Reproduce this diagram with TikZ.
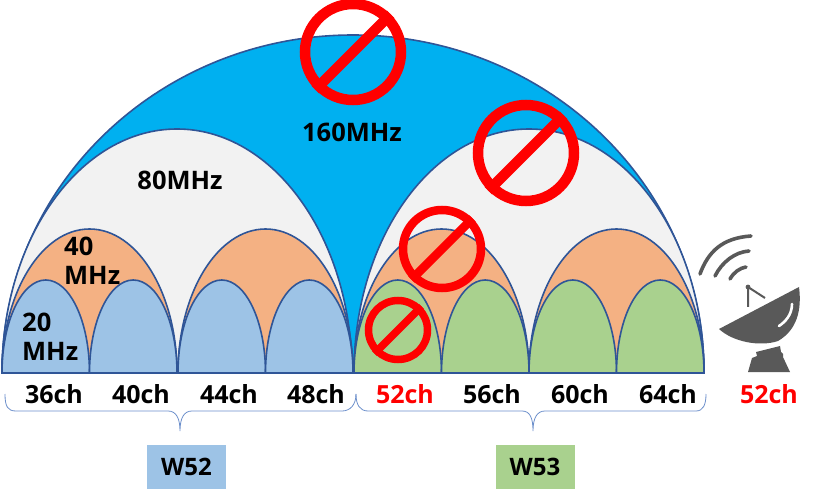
\documentclass[tikz,border=0pt]{standalone}
\usepackage{fontspec}
\setmainfont{Open Sans}
\usetikzlibrary{positioning}

\definecolor{skyblue}{HTML}{00B0F0}
\definecolor{lightgray}{HTML}{F2F2F2}
\definecolor{peach}{HTML}{F4B183}
\definecolor{paleblue}{HTML}{9DC3E6}
\definecolor{palegreen}{HTML}{A9D18E}
\definecolor{archline}{HTML}{2F5597}
\definecolor{bracecol}{HTML}{6C8FCB}
\definecolor{dishgray}{HTML}{595959}
\definecolor{signred}{HTML}{FF0000}

\tikzset{
    arch/.style={draw=archline, line width=1.6pt},
    mhzlabel/.style={font=\bfseries\fontsize{25.5}{29}\selectfont, align=left, inner sep=0pt},
    chlabel/.style={font=\bfseries\fontsize{25}{28}\selectfont, inner sep=0pt},
    bandbox/.style={font=\bfseries\fontsize{24}{28}\selectfont, inner sep=0pt, minimum width=79pt, minimum height=44pt},
    bracket/.style={draw=bracecol, line width=0.8pt},
    signmark/.style={circle, draw=signred, inner sep=0pt},
    dishpart/.style={fill=dishgray, draw=none},
    wavepart/.style={draw=dishgray, line width=3.6pt, line cap=round}
}

\begin{document}
\begin{tikzpicture}[x=1pt, y=-1pt]
    \useasboundingbox (0,0) rectangle (820,497);

    % arches, widest first
    \draw [arch, fill=skyblue] (2,373) arc [start angle=180, end angle=360, x radius=351, y radius=338] -- cycle;
    \foreach \xs in {2,354} {
        \draw [arch, fill=lightgray] (\xs,373) arc [start angle=180, end angle=360, x radius=175, y radius=244] -- cycle;
    }
    \foreach \xs in {2,178,354,529} {
        \draw [arch, fill=peach] (\xs,373) arc [start angle=180, end angle=360, x radius=87.5, y radius=144] -- cycle;
    }
    \foreach \xs in {2,89.5,178,265.5} {
        \draw [arch, fill=paleblue] (\xs,373) arc [start angle=180, end angle=360, x radius=43.75, y radius=93] -- cycle;
    }
    \foreach \xs in {354,441.5,529,616.5} {
        \draw [arch, fill=palegreen] (\xs,373) arc [start angle=180, end angle=360, x radius=43.75, y radius=93] -- cycle;
    }
    \draw [arch, line width=2pt] (2,373) -- (704,373);

    % bandwidth labels
    \node [mhzlabel] (mhz160) at (352,132) {160MHz};
    \node [mhzlabel] (mhz80) at (180,180) {80MHz};
    \node [mhzlabel, anchor=west] (mhz40) at (64,261) {40\\MHz};
    \node [mhzlabel, anchor=west] (mhz20) at (22,337) {20\\MHz};

    % channels
    \foreach \cx/\ch in {54/36, 141/40, 229/44, 316/48, 492/56, 580/60, 668/64} {
        \node [chlabel] (ch\ch) at (\cx,394) {\ch ch};
    }
    \node [chlabel, text=signred] (ch52) at (405,394) {52ch};
    \node [chlabel, text=signred] (radar) at (769,394) {52ch};

    % braces
    \draw [bracket] (5,394) .. controls (5,407) and (8,411) .. (16,411) -- (168,411) .. controls (176,411) and (180,418) .. (180,431) .. controls (180,418) and (184,411) .. (192,411) -- (342,411) .. controls (350,411) and (356,405) .. (356,394);
    \draw [bracket] (356,394) .. controls (356,405) and (360,411) .. (368,411) -- (522,411) .. controls (530,411) and (533,418) .. (533,431) .. controls (533,418) and (537,411) .. (545,411) -- (696,411) .. controls (703,411) and (706,405) .. (706,394);

    % band boxes
    \node [bandbox, fill=paleblue] (w52) at (186.5,466.5) {W52};
    \node [bandbox, fill=palegreen] (w53) at (535,466.5) {W53};

    % prohibition signs
    \foreach \name/\cx/\cy/\rad/\wid in {signa/353/52/48/10.5, signb/526/153/48/10.5, signc/442/249/39/8.5, signd/398/330/29.5/7.5} {
        \node [signmark, minimum size=2*\rad pt, line width=\wid pt] (\name) at (\cx,\cy) {};
        \draw [draw=signred, line width=\wid pt] (\name.45) -- (\name.225);
    }

    % radar dish
    \draw [dishpart] (719,329) -- (799,287) .. controls (802,310) and (797,330) .. (778,341) .. controls (760,347) and (733,342) .. (719,329) -- cycle;
    \draw [draw=white, line width=2.6pt, line cap=round] (792,304) .. controls (792,315) and (785,322) .. (779,326);
    \draw [draw=dishgray, line width=2pt] (748,307) -- (748,287) -- (765,298);
    \fill [dishgray] (748,287) circle (2.4pt);
    \fill [dishgray] (756,352) -- (780,346) -- (781,352) -- (783,354) -- (783,357) -- (790,372) -- (748,372) -- (752,358) -- (757,356) -- cycle;
    \draw [wavepart] (700,274) .. controls (708,252) and (722,238) .. (751,236);
    \draw [wavepart] (715,276) .. controls (722,262) and (735,252) .. (749,251);
    \draw [wavepart] (730,279) .. controls (734,272) and (740,268) .. (746,267);
\end{tikzpicture}
\end{document}
